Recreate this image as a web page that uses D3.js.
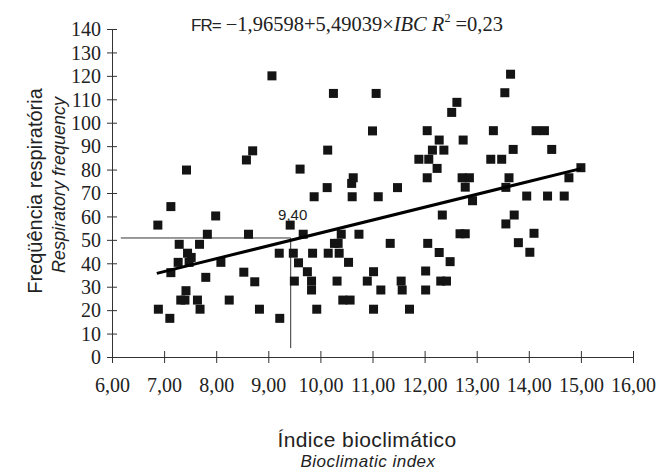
<!DOCTYPE html>
<html>
<head>
<meta charset="utf-8">
<script src="https://cdn.jsdelivr.net/npm/d3@7"></script>
<style>
  body { margin: 0; background: #fff; }
  svg { display: block; }
</style>
</head>
<body>
<svg id="chart" width="657" height="470"></svg>
<script>
// ticks
var x_ticks = [6, 7, 8, 9, 10, 11, 12, 13, 14, 15, 16]
var y_ticks = [0, 10, 20, 30, 40, 50, 60, 70, 80, 90, 100, 110, 120, 130, 140]

// indice bioclimatico (IBC) vs frequencia respiratoria (FR)
var ibc = [9.07, 8.70, 8.58, 7.43, 7.13, 10.25, 11.07, 12.62, 12.52, 11.00,
           12.05, 12.74, 12.28, 12.15, 12.37, 11.89, 12.08, 12.24, 12.05, 12.72,
           12.86, 12.78, 10.14, 9.61, 10.63, 10.60, 10.13, 11.48, 9.88, 10.61,
           11.11, 13.65, 13.54, 13.32, 14.14, 14.30, 13.70, 14.44, 13.27, 13.48,
           12.92, 13.62, 13.56, 14.77, 15.00, 13.96, 14.36, 14.68,
           6.88, 7.99, 9.42, 7.29, 7.68, 7.83, 8.62, 7.45, 7.52, 7.27,
           7.48, 7.13, 8.09, 7.80, 8.53, 8.74, 9.21, 9.48, 9.58, 9.50,
           7.42, 7.32, 7.40, 7.64, 7.69, 8.25, 6.89, 7.11, 8.83, 9.22,
           9.67, 10.40, 10.74, 12.34, 12.68, 12.78, 10.27, 10.34, 11.34, 12.06,
           9.85, 10.15, 10.36, 12.28, 10.54, 12.49, 9.75, 11.02, 12.02, 9.83,
           10.32, 10.90, 11.55, 12.31, 12.42, 9.83, 11.16, 11.57, 12.02, 10.43,
           10.57, 9.93, 11.02, 11.71, 13.72, 13.56, 14.10, 13.80, 14.02]
var fr  = [120.0, 88.0, 84.1, 79.8, 64.2, 112.5, 112.5, 108.7, 104.4, 96.5,
           96.6, 92.6, 92.6, 88.3, 88.3, 84.4, 84.4, 80.5, 76.5, 76.5,
           76.5, 72.5, 88.3, 80.2, 76.5, 74.1, 72.3, 72.3, 68.4, 68.4,
           68.4, 120.7, 112.8, 96.6, 96.6, 96.6, 88.6, 88.6, 84.4, 84.4,
           66.7, 76.5, 72.4, 76.5, 80.8, 68.7, 68.7, 68.7,
           56.3, 60.2, 56.3, 48.1, 48.1, 52.4, 52.4, 44.3, 42.5, 40.4,
           40.4, 36.0, 40.4, 34.0, 36.2, 32.1, 44.3, 44.3, 40.2, 32.4,
           28.3, 24.3, 24.3, 24.3, 20.4, 24.3, 20.4, 16.5, 20.4, 16.5,
           52.4, 52.4, 52.4, 60.6, 52.6, 52.6, 48.5, 48.5, 48.5, 48.5,
           44.3, 44.3, 44.3, 44.6, 40.4, 40.7, 36.4, 36.4, 36.7, 32.4,
           32.4, 32.4, 32.4, 32.4, 32.4, 28.6, 28.6, 28.6, 28.6, 24.3,
           24.3, 20.4, 20.4, 20.4, 60.6, 56.8, 52.8, 48.8, 44.7]

// regression FR = a + b * IBC, drawn over the observed range
var reg_a = -1.96598
var reg_b = 5.49039
var reg_range = [6.86, 15.0]

// marked point on the line (label as printed)
var mark = {x: 9.43, y: 50.8, label: "9,40"}
var mark_line_start = 6.17
var mark_line_bottom = 3.8

var fmt = function(d){ return d3.format(".2f")(d).replace(".", ",") }
var serif = "'Liberation Serif', 'Times New Roman', serif"
var sans = "'Liberation Sans', Arial, sans-serif"

var svg = d3.select("#chart")

var x = d3.scaleLinear().domain([6, 16]).range([112, 633])
var y = d3.scaleLinear().domain([0, 140]).range([357, 29])

/******
* axes
******/
var gx = svg.append("g")
  .attr("transform", "translate(0," + y(0) + ")")
  .call(d3.axisBottom(x).tickValues(x_ticks).tickFormat(fmt).tickSizeOuter(0))
  .attr("font-family", serif)
  .attr("font-size", 20)

gx.selectAll(".tick line").attr("y1", -6).attr("y2", 6)
gx.selectAll(".tick text").attr("y", 21).attr("fill", "#222")

var gy = svg.append("g")
  .attr("transform", "translate(" + x(6) + ",0)")
  .call(d3.axisLeft(y).tickValues(y_ticks).tickFormat(d3.format("d")).tickSizeOuter(0))
  .attr("font-family", serif)
  .attr("font-size", 20)

gy.selectAll(".tick line").attr("x1", -5).attr("x2", 5)
gy.selectAll(".tick text").attr("x", -11).attr("dy", "0.34em").attr("fill", "#222")

svg.selectAll(".domain, .tick line").attr("stroke", "#333").attr("stroke-width", 1)

/*************
* ref lines
*************/
svg.append("line")
  .attr("x1", x(mark_line_start)).attr("x2", x(mark.x))
  .attr("y1", y(mark.y)).attr("y2", y(mark.y))
  .attr("stroke", "#333").attr("stroke-width", 1)

svg.append("line")
  .attr("x1", x(mark.x)).attr("x2", x(mark.x))
  .attr("y1", y(mark.y)).attr("y2", y(mark_line_bottom))
  .attr("stroke", "#333").attr("stroke-width", 1)

svg.append("text")
  .text(mark.label)
  .attr("x", x(mark.x) + 2)
  .attr("y", y(mark.y) - 18)
  .attr("text-anchor", "middle")
  .attr("font-family", sans)
  .attr("font-size", 15)
  .attr("fill", "#222")

/*******
* points
*******/
var pts = ibc.map(function(d, i){ return {x: d, y: fr[i]} })
var sq = 9

svg.append("g")
  .selectAll("rect")
  .data(pts)
  .enter()
  .append("rect")
  .attr("x", function(d){ return x(d.x) - sq/2 })
  .attr("y", function(d){ return y(d.y) - sq/2 })
  .attr("width", sq)
  .attr("height", sq)
  .attr("fill", "#141414")

/***********
* regression
***********/
var reg_line = d3.line()
  .x(function(d){ return x(d) })
  .y(function(d){ return y(reg_a + reg_b * d) })

svg.append("path")
  .datum(reg_range)
  .attr("d", reg_line)
  .attr("fill", "none")
  .attr("stroke", "#000")
  .attr("stroke-width", 3)

/******
* texts
******/
var title = svg.append("text")
  .attr("x", 347)
  .attr("y", 31)
  .attr("text-anchor", "middle")
  .attr("font-family", serif)
  .attr("font-size", 20.5)
  .attr("fill", "#222")

title.append("tspan").text("FR=").attr("font-family", sans).attr("font-size", 17).attr("letter-spacing", -1)
title.append("tspan").text(" \u22121,96598+5,49039\u00d7")
title.append("tspan").text("IBC").attr("font-style", "italic")
title.append("tspan").text("  ")
title.append("tspan").text("R").attr("font-style", "italic")
title.append("tspan").text("2").attr("font-size", 12).attr("dy", -9)
title.append("tspan").text(" =0,23").attr("dy", 9)

svg.append("text")
  .text("Índice bioclimático")
  .attr("x", 367).attr("y", 447)
  .attr("text-anchor", "middle")
  .attr("font-family", sans)
  .attr("font-size", 21)
  .attr("letter-spacing", 0.4)
  .attr("fill", "#222")

svg.append("text")
  .text("Bioclimatic index")
  .attr("x", 368).attr("y", 467)
  .attr("text-anchor", "middle")
  .attr("font-family", sans)
  .attr("font-style", "italic")
  .attr("font-size", 17)
  .attr("letter-spacing", 0.5)
  .attr("fill", "#222")

svg.append("text")
  .text("Freqüência respiratória")
  .attr("transform", "translate(42,191) rotate(-90)")
  .attr("text-anchor", "middle")
  .attr("font-family", sans)
  .attr("font-size", 20)
  .attr("fill", "#222")

svg.append("text")
  .text("Respiratory frequency")
  .attr("transform", "translate(65,185) rotate(-90)")
  .attr("text-anchor", "middle")
  .attr("font-family", sans)
  .attr("font-style", "italic")
  .attr("font-size", 18)
  .attr("fill", "#222")
</script>
</body>
</html>
